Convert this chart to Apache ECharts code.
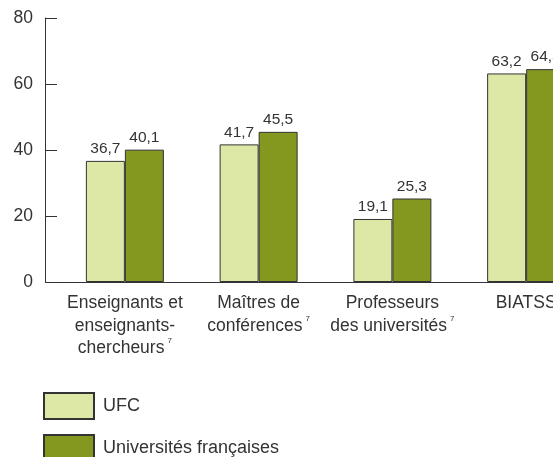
<!DOCTYPE html>
<html>
<head>
<meta charset="utf-8">
<script src="https://cdn.jsdelivr.net/npm/echarts@6/dist/echarts.min.js"></script>
<style>
  html, body { margin: 0; padding: 0; background: #fff; }
  #chart { width: 553px; height: 457px; }
</style>
</head>
<body>
<div id="chart"></div>
<script>
// données
const categories = ['Enseignants et\nenseignants-\nchercheurs', 'Maîtres de\nconférences', 'Professeurs\ndes universités', 'BIATSS'];
const notes = ['7', '7', '7', ''];
const ufc = [36.7, 41.7, 19.1, 63.2];
const univFr = [40.1, 45.5, 25.3, 64.5];
const yTicks = [0, 20, 40, 60, 80];

const font = '"Liberation Sans", Arial, sans-serif';
const ink = '#333333';

const myChart = echarts.init(document.getElementById('chart'));

const valueLabel = {
    show: true,
    position: 'top',
    distance: 4,
    color: ink,
    fontFamily: font,
    fontSize: 15.5,
    formatter: p => String(p.value).replace('.', ',')
};

const legendBase = {
    left: 43,
    padding: 0,
    itemWidth: 50,
    itemHeight: 26,
    icon: 'rect',
    textStyle: { color: ink, fontFamily: font, fontSize: 18, padding: [0, 0, 0, 4] }
};

const options = {
    animation: false,
    grid: { left: 58, top: 18, width: 535, height: 264, outerBoundsMode: 'none', containLabel: false },
    legend: [
        Object.assign({ top: 392, data: ['UFC'] }, legendBase),
        Object.assign({ top: 434, data: ['Universités françaises'] }, legendBase)
    ],
    xAxis: {
        type: 'category',
        data: categories,
        axisLine: { lineStyle: { color: ink, width: 1 } },
        axisTick: { show: false },
        axisLabel: {
            interval: 0,
            margin: 10,
            formatter: (v, i) => {
                const lines = v.split('\n').map(l => '{a|' + l + '}');
                if (notes[i]) lines[lines.length - 1] += '{s|' + notes[i] + '}';
                return lines.join('\n');
            },
            rich: {
                a: { color: ink, fontFamily: font, fontSize: 17.5, lineHeight: 22.5 },
                s: { color: ink, fontFamily: font, fontSize: 8, lineHeight: 11, verticalAlign: 'top', padding: [0, 0, 0, 3] }
            }
        }
    },
    yAxis: {
        type: 'value',
        min: 0,
        max: 80,
        interval: 20,
        offset: 13,
        splitLine: { show: false },
        axisLine: { show: true, lineStyle: { color: ink, width: 1 } },
        axisTick: { show: true, inside: true, length: 12, lineStyle: { color: ink } },
        axisLabel: {
            color: ink,
            fontFamily: font,
            fontSize: 17.5,
            margin: 12,
            formatter: v => yTicks.includes(v) ? String(v) : ''
        }
    },
    graphic: [{
        type: 'line',
        shape: { x1: 45, y1: 282.5, x2: 59, y2: 282.5 },
        style: { stroke: ink, lineWidth: 1 }
    }],
    series: [
        {
            name: 'UFC',
            type: 'bar',
            barWidth: 39,
            barGap: 0,
            data: ufc,
            itemStyle: { color: '#dde8a6', borderColor: ink, borderWidth: 1 },
            label: valueLabel
        },
        {
            name: 'Universités françaises',
            type: 'bar',
            barWidth: 39,
            data: univFr,
            itemStyle: { color: '#84981f', borderColor: ink, borderWidth: 1 },
            label: valueLabel
        }
    ]
};

myChart.setOption(options);
</script>
</body>
</html>
